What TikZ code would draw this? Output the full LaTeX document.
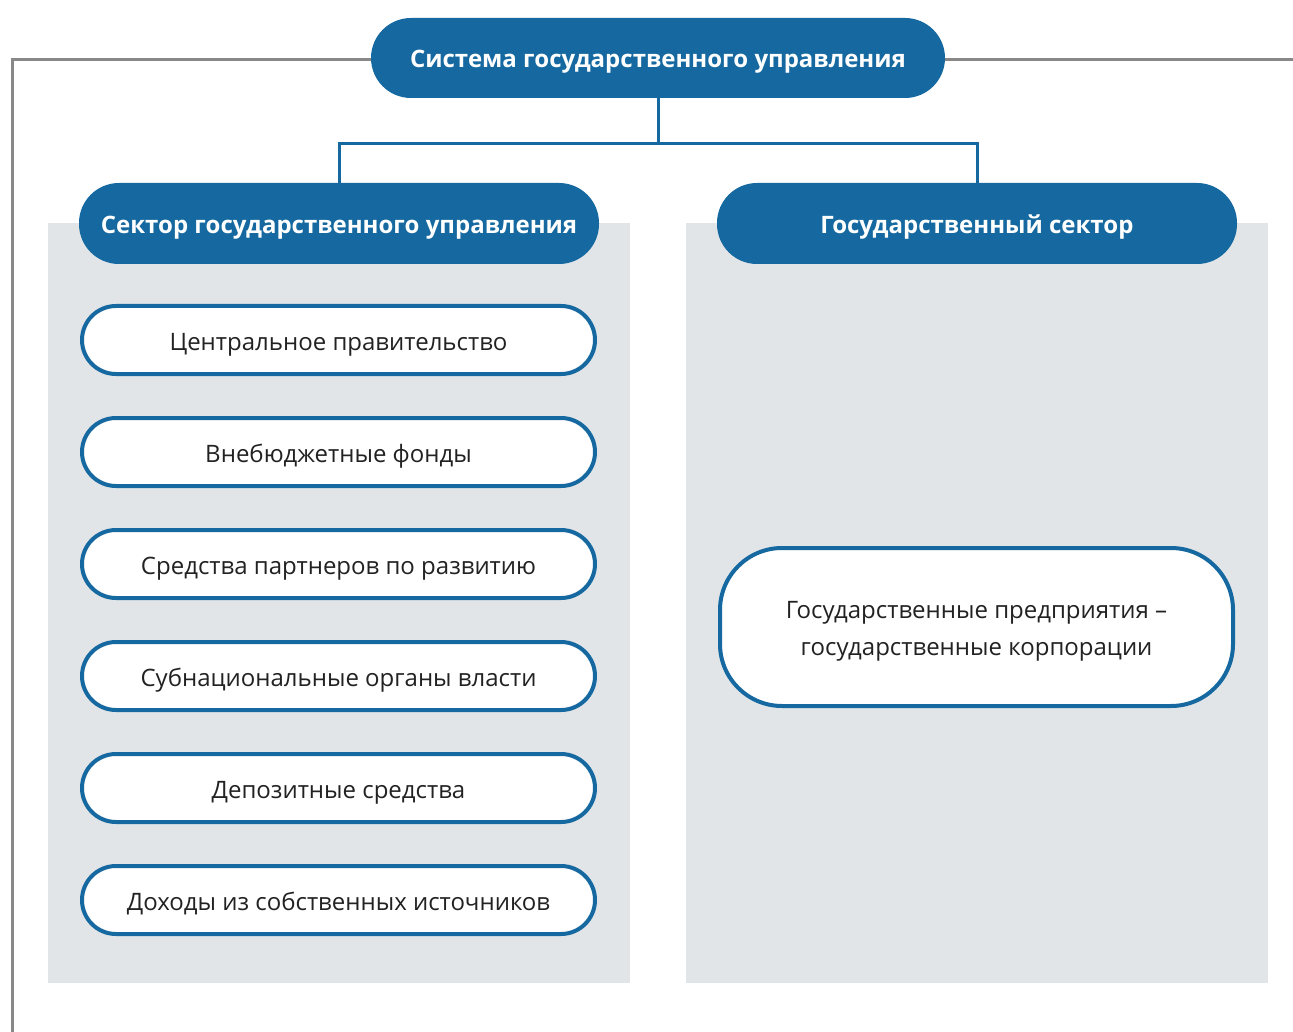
\documentclass[tikz,border=0pt]{standalone}
\usepackage{fontspec}
\setmainfont{Open Sans}
\definecolor{mainblue}{HTML}{1569A0}
\definecolor{panelgray}{HTML}{E1E5E8}
\definecolor{linegray}{HTML}{888888}
\definecolor{textdark}{HTML}{222222}
\begin{document}
\begin{tikzpicture}[x=1pt,y=-1pt,
  header/.style={fill=mainblue,draw=none,rounded corners=40pt,text=white,font=\fontsize{24}{28}\selectfont\bfseries,inner sep=0pt,align=center,text height=20pt,text depth=0pt},
  item/.style={fill=white,draw=mainblue,line width=4pt,rounded corners=34pt,text=textdark,font=\fontsize{24}{28}\selectfont,minimum width=513pt,minimum height=68pt,inner sep=0pt,align=center,text height=20pt,text depth=0pt},
  panel/.style={fill=panelgray,draw=none},
  conn/.style={draw=mainblue,line width=3pt},
  frame/.style={draw=linegray,line width=3pt}]
\useasboundingbox (0,0) rectangle (1293,1032);
% panels
\path[panel] (48,223) rectangle (630,983);
\path[panel] (686,223) rectangle (1268,983);
% gray frame line
\coordinate (fl) at (12,1032);
\coordinate (fc) at (12,60);
\coordinate (fr) at (1293,60);
% nodes
\node[header,minimum width=574pt,minimum height=80pt] (top) at (658,58) {Система государственного управления};
\draw[frame] (fl) -- (fc) -- (fc -| top.west);
\draw[frame] (fr -| top.east) -- (fr);
\node[header,minimum width=520pt,minimum height=81pt] (lh) at (339,223.5) {Сектор государственного управления};
\node[header,minimum width=520pt,minimum height=81pt] (rh) at (977,223.5) {Государственный сектор};
\draw[conn] (top.south) -- ++(0,45) -| (lh.north);
\draw[conn] (top.south) -- ++(0,45) -| (rh.north);
\node[item] (i1) at (338.5,340) {Центральное правительство};
\node[item] (i2) at (338.5,452) {Внебюджетные фонды};
\node[item] (i3) at (338.5,564) {Средства партнеров по развитию};
\node[item] (i4) at (338.5,676) {Субнациональные органы власти};
\node[item] (i5) at (338.5,788) {Депозитные средства};
\node[item] (i6) at (338.5,900) {Доходы из собственных источников};
\node[item,minimum height=158pt,rounded corners=62pt,font=\fontsize{24}{37}\selectfont,text height=56pt,text depth=0pt] (r1) at (976.5,627) {Государственные предприятия –\\государственные корпорации};
\end{tikzpicture}
\end{document}
